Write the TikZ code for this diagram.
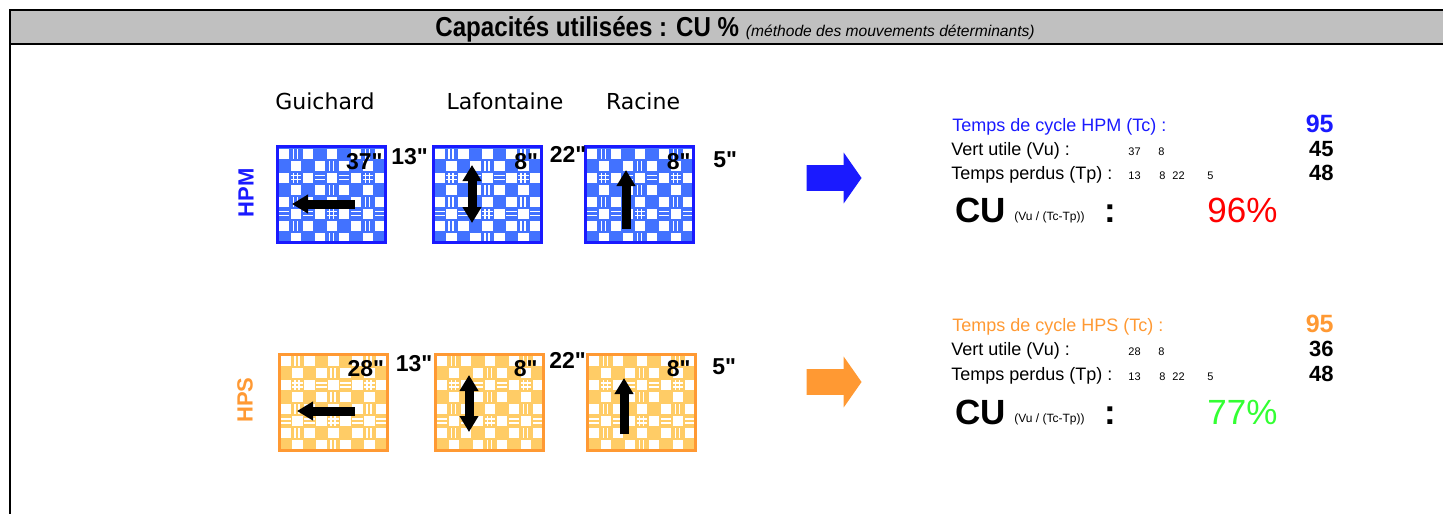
\documentclass[tikz,border=0pt]{standalone}
\usepackage{fontspec}
\setmainfont{Liberation Sans}[Ligatures=TeXOff]
\newfontfamily\streetfont{DejaVu Sans}
\newfontfamily\narrowfont[FakeStretch=0.88,Ligatures=TeXOff]{Liberation Sans}
\usetikzlibrary{arrows.meta,positioning,calc,shapes.arrows}

\definecolor{hpmblue}{HTML}{1A1AFF}
\definecolor{hpmfill}{HTML}{4272FF}
\definecolor{hpsorange}{HTML}{FF9933}
\definecolor{hpsfill}{HTML}{FFCC66}
\definecolor{bargray}{HTML}{C0C0C0}
\definecolor{cugreen}{HTML}{33FF33}

\begin{document}
\begin{tikzpicture}[x=0.5pt,y=-0.5pt,
        plaid/.style 2 args={draw=#1, fill=#2, line width=1.5pt, inner sep=0pt,
            minimum width=54pt, minimum height=48pt,
            path picture={
                \foreach \i in {0,...,9}
                    \foreach \j in {0,...,8}{
                        \pgfmathtruncatemacro\cellodd{mod(\i+\j,2)}
                        \pgfmathtruncatemacro\colstripe{mod(\i,3)}
                        \pgfmathtruncatemacro\rowstripe{mod(\j,3)}
                        \ifnum\cellodd=0
                            \fill[white] ($(path picture bounding box.north west)+(\i*12+1,\j*12+2)$) rectangle ++(10.5,10);
                        \else
                            \ifnum\colstripe=1
                                \fill[white] ($(path picture bounding box.north west)+(\i*12+3,\j*12+2)$) rectangle ++(1.6,10);
                                \fill[white] ($(path picture bounding box.north west)+(\i*12+7,\j*12+2)$) rectangle ++(1.6,10);
                            \fi
                            \ifnum\rowstripe=2
                                \fill[white] ($(path picture bounding box.north west)+(\i*12+1,\j*12+4)$) rectangle ++(10.5,1.6);
                                \fill[white] ($(path picture bounding box.north west)+(\i*12+1,\j*12+8)$) rectangle ++(10.5,1.6);
                            \fi
                        \fi}
            }},
        street/.style={font=\streetfont\fontsize{11}{13}\selectfont},
        secs/.style={inner sep=0pt, font=\bfseries\fontsize{11.5}{13}\selectfont},
        period/.style={rotate=90, font=\bfseries\fontsize{11}{13}\selectfont},
        move/.style={line width=4.5pt, -{Triangle[length=8pt,width=9pt]}},
        twoway/.style={line width=4.5pt, {Triangle[length=8pt,width=9pt]}-{Triangle[length=8pt,width=9pt]}},
        bigarrow/.style={single arrow, draw=none, inner xsep=0pt, inner ysep=6.25pt,
            minimum height=27.5pt, single arrow head extend=6.25pt, single arrow tip angle=110},
        info/.style={anchor=base west, inner sep=0pt, font=\fontsize{9}{11}\selectfont},
        tiny/.style={anchor=base west, inner sep=0pt, font=\fontsize{5.5}{7}\selectfont},
        total/.style={anchor=base east, inner sep=0pt, font=\bfseries\fontsize{11}{13}\selectfont},
        cu/.style={anchor=base west, inner sep=0pt, font=\fontsize{17.5}{20}\selectfont}
    ]
        \useasboundingbox (0,0) rectangle (1443,514);

        % frame and title bar
        \fill[bargray] (10,10) rectangle (1443,44);
        \draw[line width=1pt] (1443,10) -- (10,10) -- (10,514);
        \draw[line width=1pt] (10,44) -- (1443,44);
        \node[anchor=base west, inner sep=0pt, font=\narrowfont\bfseries\fontsize{13.7}{15}\selectfont] (title) at (435,36) {Capacités utilisées : CU \%};
        \node[anchor=base west, inner sep=0pt, font=\itshape\fontsize{7.8}{9}\selectfont] (subtitle) at ($(title.base east)+(6,0)$) {(méthode des mouvements déterminants)};

        % streets
        \node[street] (guichard) at (325,101) {Guichard};
        \node[street] (lafontaine) at (505,101) {Lafontaine};
        \node[street] (racine) at (643,101) {Racine};

        % HPM
        \node[period, text=hpmblue] (hpm) at (246,193) {HPM};
        \node[plaid={hpmblue}{hpmfill}] (mg) at (331.5,194.5) {};
        \node[plaid={hpmblue}{hpmfill}] (ml) at (487,194.5) {};
        \node[plaid={hpmblue}{hpmfill}] (mr) at (639.5,194.5) {};

        \draw[move] ($(mg.center)+(23.5,9.5)$) -- ($(mg.center)+(-39.5,9.5)$);
        \draw[twoway] ($(ml.center)+(-15,-29.5)$) -- ($(ml.center)+(-15,28.5)$);
        \draw[move] ($(mr.center)+(-13.5,34.5)$) -- ($(mr.center)+(-13.5,-24.5)$);

        \node[secs, anchor=base east] (mg-in) at ($(mg.north east)+(-4,24)$) {37"};
        \node[secs, anchor=base east] (ml-in) at ($(ml.north east)+(-4,24)$) {8"};
        \node[secs, anchor=base east] (mr-in) at ($(mr.north east)+(-4,24)$) {8"};
        \node[secs, anchor=base west] (mg-out) at ($(mg.north east)+(4,19)$) {13"};
        \node[secs, anchor=base west] (ml-out) at ($(ml.north east)+(7,17)$) {22"};
        \node[secs, anchor=base west] (mr-out) at ($(mr.north east)+(18,22)$) {5"};

        % HPS
        \node[period, text=hpsorange] (hps) at (245,400) {HPS};
        \node[plaid={hpsorange}{hpsfill}] (sg) at (333,402) {};
        \node[plaid={hpsorange}{hpsfill}] (sl) at (489.5,402) {};
        \node[plaid={hpsorange}{hpsfill}] (sr) at (641.5,402) {};

        \draw[move] ($(sg.center)+(22,9)$) -- ($(sg.center)+(-36,9)$);
        \draw[twoway] ($(sl.center)+(-20.5,-27)$) -- ($(sl.center)+(-20.5,30)$);
        \draw[move] ($(sr.center)+(-17.5,32)$) -- ($(sr.center)+(-17.5,-24)$);

        \node[secs, anchor=base east] (sg-in) at ($(sg.north east)+(-4,24)$) {28"};
        \node[secs, anchor=base east] (sl-in) at ($(sl.north east)+(-7,24)$) {8"};
        \node[secs, anchor=base east] (sr-in) at ($(sr.north east)+(-6,24)$) {8"};
        \node[secs, anchor=base west] (sg-out) at ($(sg.north east)+(7,19)$) {13"};
        \node[secs, anchor=base west] (sl-out) at ($(sl.north east)+(4,16)$) {22"};
        \node[secs, anchor=base west] (sr-out) at ($(sr.north east)+(15,22)$) {5"};

        % result arrows
        \node[bigarrow, fill=hpmblue] (marrow) at (829.5,178) {};
        \node[bigarrow, fill=hpsorange] (sarrow) at (829.5,382) {};

        % HPM results
        \node[info, text=hpmblue] (mtc) at (952,131) {Temps de cycle HPM (Tc) :};
        \node[total, text=hpmblue, font=\bfseries\fontsize{12.5}{14}\selectfont] (mtc-v) at (1334,132) {95};
        \node[info] (mvu) at (951,155) {Vert utile (Vu) :};
        \node[tiny] (mvu-1) at (1128,155) {37};
        \node[tiny] (mvu-2) at (1158,155) {8};
        \node[total] (mvu-v) at (1334,156) {45};
        \node[info] (mtp) at (951,179) {Temps perdus (Tp) :};
        \node[tiny] (mtp-1) at (1128,179) {13};
        \node[tiny] (mtp-2) at (1159,179) {8};
        \node[tiny] (mtp-3) at (1172,179) {22};
        \node[tiny] (mtp-4) at (1207,179) {5};
        \node[total] (mtp-v) at (1334,180) {48};
        \node[cu, font=\bfseries\fontsize{17.5}{20}\selectfont] (mcu) at (955,222) {CU};
        \node[tiny, font=\fontsize{6}{7}\selectfont] (mcu-f) at (1014,220) {(Vu / (Tc-Tp))};
        \node[cu, font=\bfseries\fontsize{17.5}{20}\selectfont] (mcu-c) at (1104,222) {:};
        \node[cu, text=red] (mcu-v) at (1207,222) {96\%};

        % HPS results
        \node[info, text=hpsorange] (stc) at (952,331) {Temps de cycle HPS (Tc) :};
        \node[total, text=hpsorange, font=\bfseries\fontsize{12.5}{14}\selectfont] (stc-v) at (1334,332) {95};
        \node[info] (svu) at (951,355) {Vert utile (Vu) :};
        \node[tiny] (svu-1) at (1128,355) {28};
        \node[tiny] (svu-2) at (1158,355) {8};
        \node[total] (svu-v) at (1334,356) {36};
        \node[info] (stp) at (951,380) {Temps perdus (Tp) :};
        \node[tiny] (stp-1) at (1128,380) {13};
        \node[tiny] (stp-2) at (1159,380) {8};
        \node[tiny] (stp-3) at (1172,380) {22};
        \node[tiny] (stp-4) at (1207,380) {5};
        \node[total] (stp-v) at (1334,381) {48};
        \node[cu, font=\bfseries\fontsize{17.5}{20}\selectfont] (scu) at (955,424) {CU};
        \node[tiny, font=\fontsize{6}{7}\selectfont] (scu-f) at (1014,422) {(Vu / (Tc-Tp))};
        \node[cu, font=\bfseries\fontsize{17.5}{20}\selectfont] (scu-c) at (1104,424) {:};
        \node[cu, text=cugreen] (scu-v) at (1207,424) {77\%};
    \end{tikzpicture}
\end{document}
